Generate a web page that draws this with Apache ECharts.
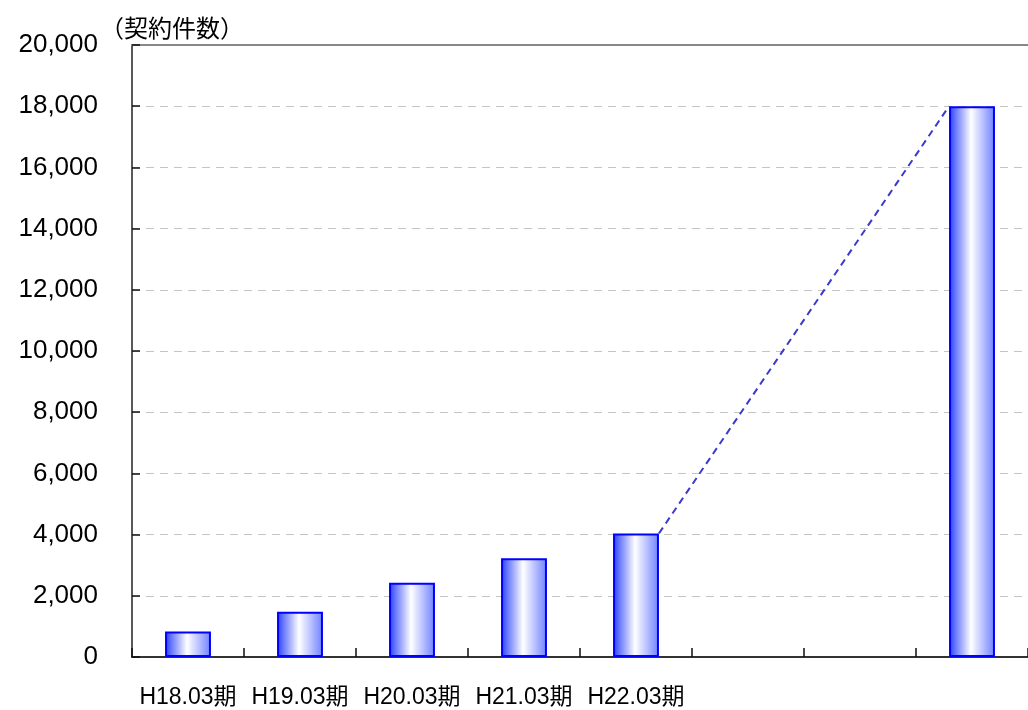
<!DOCTYPE html>
<html>
<head>
<meta charset="utf-8">
<script src="https://cdn.jsdelivr.net/npm/echarts@6/dist/echarts.min.js"></script>
<style>
  html, body { margin: 0; padding: 0; background: #fff; }
  #contracts { width: 1028px; height: 710px; }
</style>
</head>
<body>
<div id="contracts"></div>
<script>
// 契約件数の推移
const categories = ['H18.03期', 'H19.03期', 'H20.03期', 'H21.03期', 'H22.03期', 'c6', 'c7', 'c8'];
const xLabels = ['H18.03期', 'H19.03期', 'H20.03期', 'H21.03期', 'H22.03期', '', '', ''];
const contractCounts = [830, 1480, 2430, 3230, 4040, null, null, 18000];
const yTicks = [0, 2000, 4000, 6000, 8000, 10000, 12000, 14000, 16000, 18000, 20000];
// dashed connector: from H22.03期 bar to the last bar
const connector = [[4, 4040, 7, 18000]];

const fontJP = '"Liberation Sans", "Noto Sans CJK JP", sans-serif';

const chart = echarts.init(document.getElementById('contracts'));
const barGradient = new echarts.graphic.LinearGradient(0, 0, 1, 0, [
  { offset: 0, color: '#2a40ff' },
  { offset: 0.48, color: '#ffffff' },
  { offset: 1, color: '#6f80ff' }
]);
const barRatio = 0.41;

const option = {
  animation: false,
  backgroundColor: '#fff',
  title: {
    text: '（契約件数）',
    left: 95,
    top: 13,
    textStyle: { fontFamily: fontJP, fontSize: 24, fontWeight: 'normal', color: '#000' }
  },
  grid: { left: 132, top: 45, width: 904, height: 612 },
  xAxis: [
    {
      type: 'category',
      data: categories,
      axisLine: { show: true, lineStyle: { color: '#333', width: 2 } },
      axisTick: { show: true, interval: 0, inside: true, length: 9, lineStyle: { color: '#111', width: 1.5 } },
      axisLabel: {
        interval: 0,
        hideOverlap: false,
        margin: 29,
        fontFamily: fontJP,
        fontSize: 23,
        color: '#000',
        formatter: function (v, i) { return xLabels[i]; }
      }
    },
    {
      type: 'category',
      position: 'top',
      data: categories,
      axisLine: { show: true, lineStyle: { color: '#888', width: 2 } },
      axisTick: { show: false },
      axisLabel: { show: false }
    }
  ],
  yAxis: {
    type: 'value',
    min: yTicks[0],
    max: yTicks[yTicks.length - 1],
    interval: 2000,
    axisLine: { show: true, lineStyle: { color: '#222', width: 1.5 } },
    axisTick: { show: true, inside: true, length: 8, lineStyle: { color: '#111', width: 1.5 } },
    axisLabel: {
      margin: 34,
      fontFamily: fontJP,
      fontSize: 26,
      color: '#000',
      formatter: function (v) { return v.toLocaleString('en-US'); }
    },
    splitLine: { lineStyle: { color: '#c4c4c4', type: [8, 6] } }
  },
  series: [
    {
      type: 'bar',
      data: contractCounts,
      barWidth: (barRatio * 100) + '%',
      itemStyle: { color: barGradient, borderColor: '#0000ff', borderWidth: 2 }
    },
    {
      type: 'custom',
      data: connector,
      encode: { x: [0, 2], y: [1, 3] },
      z: 3,
      renderItem: function (params, api) {
        const half = api.size([1, 0])[0] * barRatio / 2;
        const p1 = api.coord([api.value(0), api.value(1)]);
        const p2 = api.coord([api.value(2), api.value(3)]);
        return {
          type: 'line',
          shape: { x1: p1[0] + half, y1: p1[1], x2: p2[0] - half, y2: p2[1] },
          style: { stroke: '#3a3acc', lineWidth: 2, lineDash: [7, 5] }
        };
      }
    }
  ]
};
chart.setOption(option);
</script>
</body>
</html>
